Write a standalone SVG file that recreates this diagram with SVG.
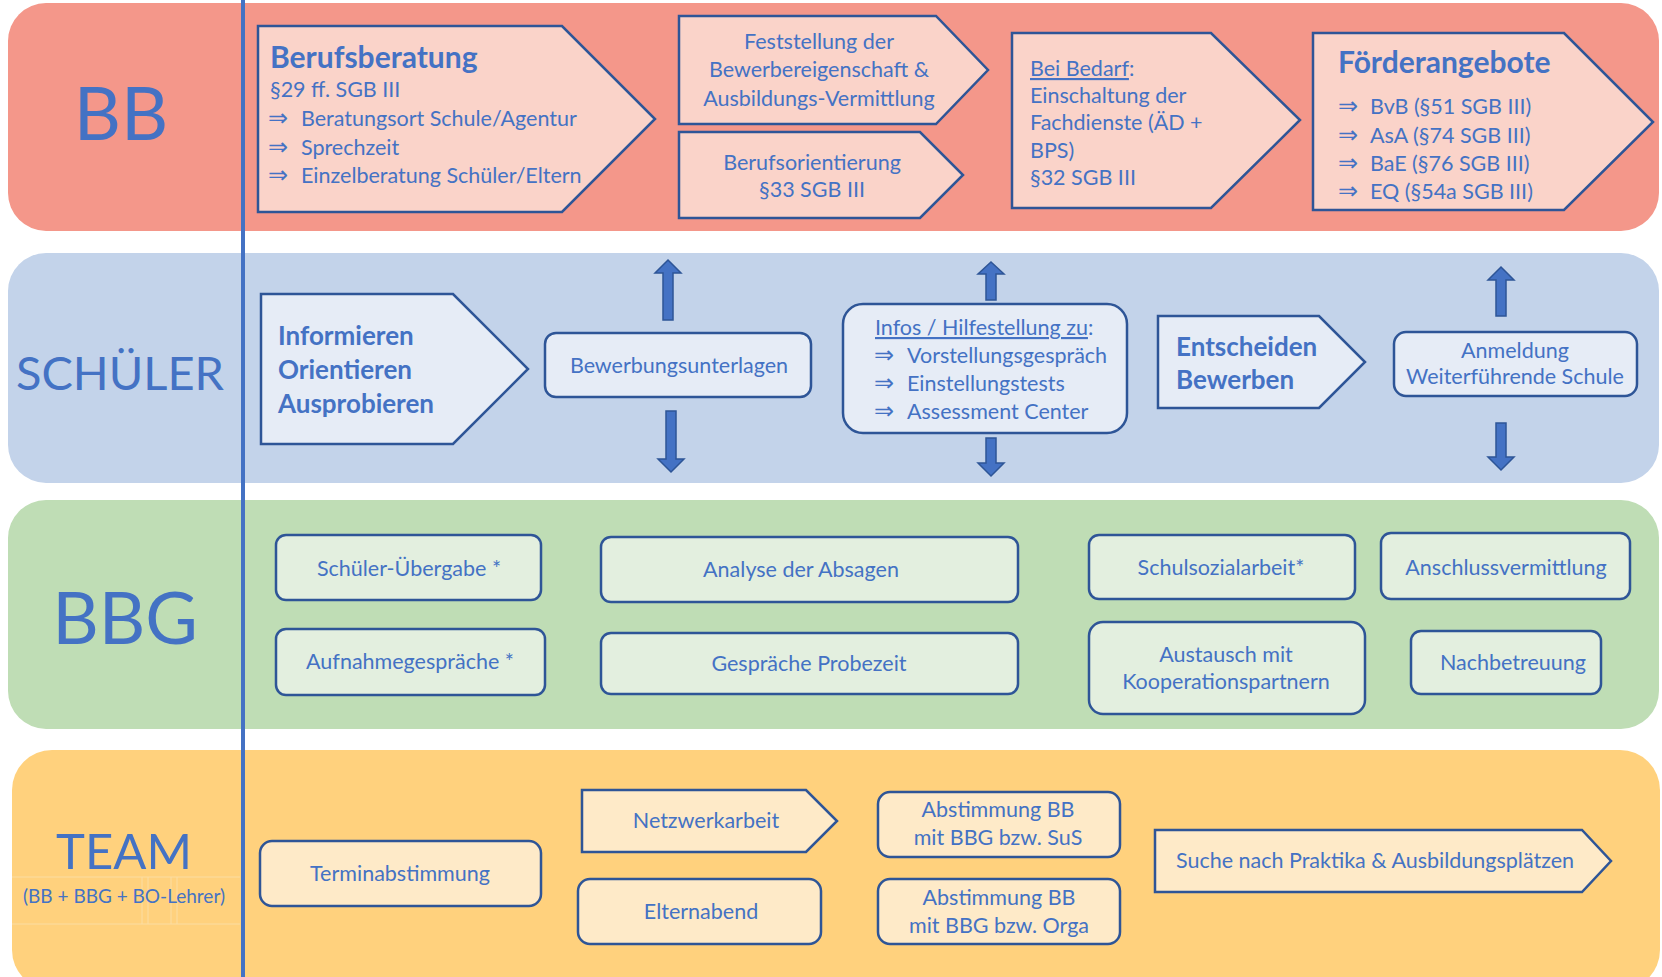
<svg xmlns="http://www.w3.org/2000/svg" width="1662" height="977" viewBox="0 0 1662 977">
<style>
.t{font-family:Lato,"DejaVu Sans","Liberation Sans",sans-serif;fill:#4472C4;font-size:21.5px}
.c{text-anchor:middle}
.b{font-weight:bold}
.h1{font-size:30px}
.h2{font-size:26px}
.ar{font-family:"DejaVu Sans",sans-serif;font-size:24px}
.u{text-decoration:underline}
.n{stroke:#2E5597;stroke-width:2.5}
.bb{fill:#FAD3C9}.sc{fill:#E6ECF6}.bg{fill:#E3EFDF}.tm{fill:#FEEAC8}
.arw{fill:#4472C4;stroke:#2E5597;stroke-width:1.5}
.lbl{font-family:Lato,"DejaVu Sans",sans-serif;fill:#4472C4;text-anchor:middle}
</style>
<rect width="1662" height="977" fill="#FFFFFF"/>
<g id="lanes">
<rect x="8" y="3" width="1651" height="228" rx="38" fill="#F4978A"/>
<rect x="8" y="253" width="1651" height="230" rx="38" fill="#C3D3EA"/>
<rect x="8" y="500" width="1651" height="229" rx="38" fill="#BFDDB5"/>
<rect x="12" y="750" width="1648" height="240" rx="40" fill="#FFD17D"/>
<g stroke="#FBDDA3" stroke-width="1" fill="none">
<path d="M12 877H240M12 924H240M142 877V924M148 877V924M171 877V924M177 877V924"/>
</g>
<line x1="243" y1="0" x2="243" y2="977" stroke="#4472C4" stroke-width="4"/>
<text class="lbl" x="121" y="140" font-size="73">BB</text>
<text class="lbl" x="120" y="390" font-size="47">SCHÜLER</text>
<text class="lbl" x="125" y="644" font-size="72">BBG</text>
<text class="lbl" x="124" y="869" font-size="49">TEAM</text>
<text class="lbl" x="124" y="903" font-size="19">(BB + BBG + BO-Lehrer)</text>
</g>
<g id="connectors">
<polygon class="arw" points="668,260 681,273 673,273 673,320 663,320 663,273 655,273"/>
<polygon class="arw" points="671,472 684,459 676,459 676,411 666,411 666,459 658,459"/>
<polygon class="arw" points="991,262 1004,274 996,274 996,300 986,300 986,274 978,274"/>
<polygon class="arw" points="991,476 1004,463 996,463 996,438 986,438 986,463 978,463"/>
<polygon class="arw" points="1501,267 1514,280 1506,280 1506,316 1496,316 1496,280 1488,280"/>
<polygon class="arw" points="1501,470 1514,457 1506,457 1506,423 1496,423 1496,457 1488,457"/>
</g>
<g id="berufsberatung">
<path class="n bb" d="M258,26 L562,26 L655,119 L562,212 L258,212 Z"/>
<text class="t b h1" x="270" y="68">Berufsberatung</text>
<text class="t" x="270" y="97">§29 ff. SGB III</text>
<text class="t"><tspan class="ar" x="268" y="126">⇒</tspan><tspan x="301" y="126">Beratungsort Schule/Agentur</tspan></text>
<text class="t"><tspan class="ar" x="268" y="155">⇒</tspan><tspan x="301" y="155">Sprechzeit</tspan></text>
<text class="t"><tspan class="ar" x="268" y="183">⇒</tspan><tspan x="301" y="183">Einzelberatung Schüler/Eltern</tspan></text>
</g>
<g id="feststellung">
<path class="n bb" d="M679,16 L936,16 L988,70 L936,124 L679,124 Z"/>
<text class="t c" x="819" y="49">Feststellung der</text>
<text class="t c" x="819" y="77">Bewerbereigenschaft &amp;</text>
<text class="t c" x="819" y="106">Ausbildungs-Vermittlung</text>
</g>
<g id="berufsorientierung">
<path class="n bb" d="M679,132 L920,132 L963,175 L920,218 L679,218 Z"/>
<text class="t c" x="812" y="170">Berufsorientierung</text>
<text class="t c" x="812" y="197">§33 SGB III</text>
</g>
<g id="beibedarf">
<path class="n bb" d="M1012,33 L1211,33 L1300,120 L1211,208 L1012,208 Z"/>
<text class="t" x="1030" y="76"><tspan class="u">Bei Bedarf</tspan>:</text>
<text class="t" x="1030" y="103">Einschaltung der</text>
<text class="t" x="1030" y="130">Fachdienste (ÄD +</text>
<text class="t" x="1030" y="158">BPS)</text>
<text class="t" x="1030" y="185">§32 SGB III</text>
</g>
<g id="foerderangebote">
<path class="n bb" d="M1313,33 L1564,33 L1653,122 L1564,210 L1313,210 Z"/>
<text class="t b h1" x="1338" y="73">Förderangebote</text>
<text class="t"><tspan class="ar" x="1338" y="114">⇒</tspan><tspan x="1370" y="114">BvB (§51 SGB III)</tspan></text>
<text class="t"><tspan class="ar" x="1338" y="143">⇒</tspan><tspan x="1370" y="143">AsA (§74 SGB III)</tspan></text>
<text class="t"><tspan class="ar" x="1338" y="171">⇒</tspan><tspan x="1370" y="171">BaE (§76 SGB III)</tspan></text>
<text class="t"><tspan class="ar" x="1338" y="199">⇒</tspan><tspan x="1370" y="199">EQ (§54a SGB III)</tspan></text>
</g>
<g id="informieren">
<path class="n sc" d="M261,294 L453,294 L528,369 L453,444 L261,444 Z"/>
<text class="t b h2" x="278" y="345">Informieren</text>
<text class="t b h2" x="278" y="379">Orientieren</text>
<text class="t b h2" x="278" y="413">Ausprobieren</text>
</g>
<g id="bewerbungsunterlagen">
<rect class="n sc" x="545" y="333" width="266" height="64" rx="11"/>
<text class="t c" x="679" y="373">Bewerbungsunterlagen</text>
</g>
<g id="infos">
<rect class="n sc" x="843" y="304" width="284" height="129" rx="20"/>
<text class="t" x="875" y="335"><tspan class="u">Infos / Hilfestellung zu</tspan>:</text>
<text class="t"><tspan class="ar" x="874" y="363">⇒</tspan><tspan x="907" y="363">Vorstellungsgespräch</tspan></text>
<text class="t"><tspan class="ar" x="874" y="391">⇒</tspan><tspan x="907" y="391">Einstellungstests</tspan></text>
<text class="t"><tspan class="ar" x="874" y="419">⇒</tspan><tspan x="907" y="419">Assessment Center</tspan></text>
</g>
<g id="entscheiden">
<path class="n sc" d="M1158,316 L1319,316 L1365,362 L1319,408 L1158,408 Z"/>
<text class="t b h2" x="1176" y="356">Entscheiden</text>
<text class="t b h2" x="1176" y="389">Bewerben</text>
</g>
<g id="anmeldung">
<rect class="n sc" x="1394" y="332" width="243" height="64" rx="12"/>
<text class="t c" x="1515" y="358">Anmeldung</text>
<text class="t c" x="1515" y="384">Weiterführende Schule</text>
</g>
<g id="schueleruebergabe">
<rect class="n bg" x="276" y="535" width="265" height="65" rx="10"/>
<text class="t c" x="409" y="576">Schüler-Übergabe *</text>
</g>
<g id="analyse">
<rect class="n bg" x="601" y="537" width="417" height="65" rx="10"/>
<text class="t c" x="801" y="577">Analyse der Absagen</text>
</g>
<g id="schulsozialarbeit">
<rect class="n bg" x="1089" y="535" width="266" height="64" rx="10"/>
<text class="t c" x="1221" y="575">Schulsozialarbeit*</text>
</g>
<g id="anschlussvermittlung">
<rect class="n bg" x="1381" y="533" width="249" height="66" rx="10"/>
<text class="t c" x="1506" y="575">Anschlussvermittlung</text>
</g>
<g id="aufnahmegespraeche">
<rect class="n bg" x="276" y="629" width="269" height="66" rx="10"/>
<text class="t c" x="410" y="669">Aufnahmegespräche *</text>
</g>
<g id="probezeit">
<rect class="n bg" x="601" y="633" width="417" height="61" rx="10"/>
<text class="t c" x="809" y="671">Gespräche Probezeit</text>
</g>
<g id="austausch">
<rect class="n bg" x="1089" y="622" width="276" height="92" rx="14"/>
<text class="t c" x="1226" y="662">Austausch mit</text>
<text class="t c" x="1226" y="689">Kooperationspartnern</text>
</g>
<g id="nachbetreuung">
<rect class="n bg" x="1411" y="631" width="190" height="63" rx="10"/>
<text class="t c" x="1513" y="670">Nachbetreuung</text>
</g>
<g id="terminabstimmung">
<rect class="n tm" x="260" y="841" width="281" height="65" rx="12"/>
<text class="t c" x="400" y="881">Terminabstimmung</text>
</g>
<g id="netzwerkarbeit">
<path class="n tm" d="M582,790 L806,790 L837,821 L806,852 L582,852 Z"/>
<text class="t c" x="706" y="828">Netzwerkarbeit</text>
</g>
<g id="elternabend">
<rect class="n tm" x="578" y="879" width="243" height="65" rx="12"/>
<text class="t c" x="701" y="919">Elternabend</text>
</g>
<g id="abstimmung-sus">
<rect class="n tm" x="878" y="792" width="242" height="65" rx="12"/>
<text class="t c" x="998" y="817">Abstimmung BB</text>
<text class="t c" x="998" y="845">mit BBG bzw. SuS</text>
</g>
<g id="abstimmung-orga">
<rect class="n tm" x="878" y="879" width="242" height="65" rx="12"/>
<text class="t c" x="999" y="905">Abstimmung BB</text>
<text class="t c" x="999" y="933">mit BBG bzw. Orga</text>
</g>
<g id="suche">
<path class="n tm" d="M1155,830 L1582,830 L1611,861 L1582,892 L1155,892 Z"/>
<text class="t c" x="1375" y="868">Suche nach Praktika &amp; Ausbildungsplätzen</text>
</g>
</svg>
